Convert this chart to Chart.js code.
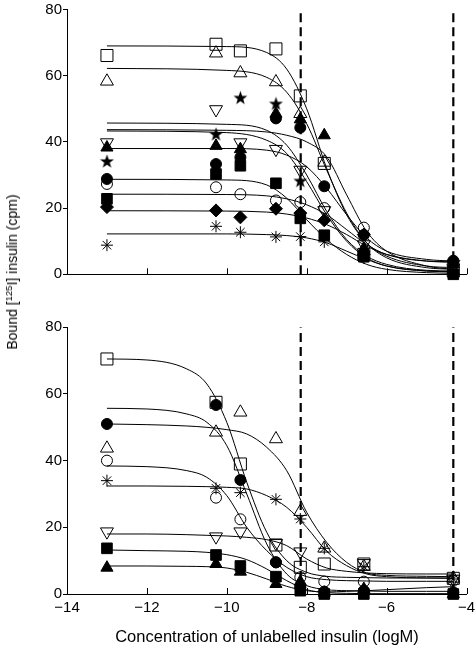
<!DOCTYPE html>
<html>
<head>
<meta charset="utf-8">
<script src="https://cdn.jsdelivr.net/npm/chart.js@4.4.0/dist/chart.umd.min.js"></script>
<style>
  html, body { margin: 0; padding: 0; background: #fff; }
  body { width: 476px; height: 648px; position: relative; overflow: hidden; font-family: "Liberation Sans", Arial, sans-serif; color: #000; }
  canvas { position: absolute; left: 0; }
  #topChart { top: 0; }
  #botChart { top: 300px; }
  #ylabel { position: absolute; left: 12px; top: 272px; transform: translate(-50%, -50%) rotate(-90deg); white-space: nowrap; font-size: 14px; }
  #ylabel sup { font-size: 9.5px; vertical-align: 5px; line-height: 0; }
  #xlabel { position: absolute; left: 267px; top: 636px; transform: translate(-50%, -50%); white-space: nowrap; font-size: 16.5px; }
</style>
</head>
<body>
<canvas id="topChart" width="476" height="290"></canvas>
<canvas id="botChart" width="476" height="348"></canvas>
<div id="ylabel">Bound [<sup>125</sup>I] insulin (cpm)</div>
<div id="xlabel">Concentration of unlabelled insulin (logM)</div>
<script>
// concentrations tested (logM)
const doses = [-13, -10.27, -9.66, -8.77, -8.16, -7.56, -6.57, -4.33];
const fitXTop = [-13, -10, -9, -8.5, -8, -7.5, -7, -6.5, -6, -5, -4.33];
const fitXBot = [-13, -12, -11, -10.5, -10, -9.5, -9, -8.5, -8, -7.5, -7, -6.5, -6, -5, -4.33];
const cutoffs = [-8.15, -4.33];
const xTicks = [-14, -12, -10, -8, -6, -4];
const yTicks = [0, 20, 40, 60, 80];

// upper panel, measured points
const topOpenSquare   = [66.1, 69.5, 67.5, 68.1, 53.9, 33.5, 6, 1];
const topOpenTri      = [58.3, 66.8, 60.8, 58.1, 48.5, 33.8, 7, 1];
const topStar         = [34.1, 42.3, 53.3, 51.5, 28.2, null, null, null];
const topDownTri      = [39.8, 49.8, 39.8, 37.8, 31.5, 19.3, 9, 2];
const topFilledCircle = [28.8, 33.3, 35.3, 47.1, 44.3, 26.6, 11.9, 4.1];
const topFilledTri    = [38.3, 38.8, 37.8, 48.5, 46.8, 42.0, 7.8, 3];
const topFilledSquare = [22.8, 30.3, 32.8, 27.5, 16.9, 11.8, 5.3, 0];
const topOpenCircle   = [27.3, 26.3, 24.2, 22.3, 21.8, 20.0, 14.1, 3.5];
const topDiamond      = [20.3, 19.3, 17.2, 19.8, 18.5, 16.3, 12.0, 4.1];
const topAsterisk     = [8.8, 14.5, 12.7, 11.3, 11.4, 9.8, 5, 1];

// upper panel, fitted curves
const topFitSquare       = [69, 68.8, 67, 62, 50, 32, 18, 9.5, 5.5, 2.5, 2];
const topFitTri          = [62.2, 61.6, 59.5, 55, 45.5, 31.5, 18.5, 9.5, 5, 2, 1.5];
const topFitStar         = [45.7, 45.3, 43.5, 39, 30, 19, 10.5, 5.5, 3, 1.2, 1];
const topFitFilledTri    = [43.7, 43.5, 43, 42, 40, 35.5, 24, 13, 7, 2.5, 1.5];
const topFitDownTri      = [43.3, 42.8, 40.5, 36.5, 28, 18, 10, 5, 2.5, 1, 0.8];
const topFitFilledCircle = [38, 38, 37.5, 36, 32.5, 26, 18, 11, 7, 4.5, 4];
const topFitFilledSquare = [28.7, 28.5, 27, 23, 16.5, 10.5, 6, 3, 1.5, 0.5, 0.3];
const topFitOpenCircle   = [24.2, 24.1, 23.7, 22.8, 21, 18, 13.5, 9, 6, 4, 3.8];
const topFitDiamond      = [19.2, 19.1, 18.8, 18.2, 17, 15, 12, 8.5, 6, 4, 3.6];
const topFitAsterisk     = [12.2, 12.2, 12, 11.7, 11, 9.5, 7, 4.5, 2.5, 1, 0.7];

// lower panel, measured points
const botOpenSquare   = [70.5, 57.5, 39.0, 14.7, 8.0, 9.0, 9.0, 4.7];
const botFilledCircle = [51.0, 56.7, 34.2, 9.5, 2.0, 0.7, 1.0, 0.5];
const botOpenTri      = [43.7, 48.5, 54.5, 46.5, 24.7, 13.7, 8.2, 4.7];
const botOpenCircle   = [40.0, 28.9, 22.4, 9.5, 5.0, 3.7, 3.7, 4.0];
const botAsterisk     = [34.0, 31.7, 30.4, 28.4, 22.5, 13.7, 8.2, 4.5];
const botDownTri      = [18.7, 17.2, 18.7, 15.2, 12.7, null, 9.2, 4.5];
const botFilledSquare = [13.7, 11.7, 8.4, 5.2, 1.0, 0, 0, 0];
const botFilledTri    = [7.9, 9.0, 6.7, 3.0, 3.7, 0.4, 1.5, 0];

// lower panel, fitted curves
const botFitSquare       = [70.5, 70.2, 67.5, 63, 51.5, 33.5, 18.5, 10, 6.5, 5.3, 5, 4.9, 4.8, 4.8, 4.8];
const botFitFilledCircle = [55.7, 55.5, 54, 51.5, 44.5, 30, 15, 6, 2.5, 1.3, 1, 0.9, 0.8, 0.8, 0.8];
const botFitTri          = [51, 50.8, 50.4, 50, 49.3, 48, 44, 37, 24.5, 15.5, 9.5, 6.3, 5.6, 5.3, 5.2];
const botFitOpenCircle   = [38.4, 38.2, 37, 35, 29.5, 20, 13, 8, 5.2, 4.3, 4, 3.9, 3.8, 3.8, 3.8];
const botFitAsterisk     = [32.4, 32.4, 32.3, 32.2, 32, 31.5, 29.5, 26, 20, 12.8, 8.5, 6, 5.2, 4.8, 4.7];
const botFitDownTri      = [18, 18, 17.8, 17.6, 17.4, 17, 16.3, 14.5, 10.5, 7.8, 6.8, 6.3, 6.1, 6, 6];
const botFitFilledSquare = [13.2, 13, 12.8, 12.5, 11.8, 10.3, 7.5, 4, 1.3, 0.4, 0.2, 0.1, 0.1, 0.1, 0.1];
const botFitFilledTri    = [8.4, 8.4, 8.3, 8.2, 7.8, 6.5, 4.5, 2.3, 1, 0.6, 0.8, 1, 1.3, 1.9, 2.2];

Chart.defaults.font.family = '"Liberation Sans", Arial, sans-serif';
Chart.defaults.color = '#000';

// filled five-point star, not among the built-in point styles
function makeStar() {
    const c = document.createElement('canvas');
    c.width = 15; c.height = 15;
    const g = c.getContext('2d');
    g.beginPath();
    for (let i = 0; i < 10; i++) {
        const r = i % 2 ? 2.9 : 7.3;
        const a = -Math.PI / 2 + i * Math.PI / 5;
        g.lineTo(7.5 + r * Math.cos(a), 7.8 + r * Math.sin(a));
    }
    g.closePath();
    g.fillStyle = '#000';
    g.fill();
    return c;
}

const CLEAR = 'rgba(0,0,0,0)';
const marks = {
    openSquare:   { pointStyle: 'rect', pointRadius: 8.5, pointBackgroundColor: CLEAR },
    openTri:      { pointStyle: 'triangle', pointRadius: 7.5, pointBackgroundColor: CLEAR },
    downTri:      { pointStyle: 'triangle', pointRadius: 7.5, pointRotation: 180, pointBackgroundColor: CLEAR },
    star:         { pointStyle: makeStar(), pointRadius: 7 },
    filledCircle: { pointStyle: 'circle', pointRadius: 5.5, pointBackgroundColor: '#000' },
    openCircle:   { pointStyle: 'circle', pointRadius: 5.5, pointBackgroundColor: CLEAR },
    filledTri:    { pointStyle: 'triangle', pointRadius: 7, pointBackgroundColor: '#000' },
    filledSquare: { pointStyle: 'rect', pointRadius: 7.5, pointBackgroundColor: '#000' },
    diamond:      { pointStyle: 'rectRot', pointRadius: 6.5, pointBackgroundColor: '#000' },
    asterisk:     { pointStyle: 'star', pointRadius: 6, pointBackgroundColor: CLEAR }
};

function pts(xs, ys) {
    return xs.map((x, i) => ({ x: x, y: ys[i] })).filter(p => p.y !== null);
}

function markerSet(ys, mark) {
    return Object.assign({
        type: 'scatter',
        data: pts(doses, ys),
        pointBorderColor: '#000',
        pointBorderWidth: 1,
        showLine: false,
        clip: false,
        order: 0
    }, mark);
}

function curveSet(xs, ys) {
    return {
        type: 'line',
        data: pts(xs, ys),
        borderColor: '#000',
        borderWidth: 1,
        pointRadius: 0,
        cubicInterpolationMode: 'monotone',
        fill: false,
        clip: false,
        order: 1
    };
}

function cutoffSets() {
    return cutoffs.map(c => ({
        type: 'line',
        data: [{ x: c, y: 0 }, { x: c, y: 80 }],
        borderColor: '#000',
        borderWidth: 2.2,
        borderDash: [9, 5],
        pointRadius: 0,
        order: 2
    }));
}

function minusLabel(v) {
    return v < 0 ? '\u2212' + Math.abs(v) : String(v);
}

// x ticks in the original point up into the plot
const inwardTicks = {
    id: 'inwardTicks',
    afterDraw(chart) {
        const { ctx, chartArea } = chart;
        const x = chart.scales.x;
        ctx.save();
        ctx.strokeStyle = '#000';
        ctx.lineWidth = 1;
        xTicks.forEach(v => {
            if (v === x.min) return;
            const px = Math.round(x.getPixelForValue(v)) + 0.5;
            ctx.beginPath();
            ctx.moveTo(px, chartArea.bottom);
            ctx.lineTo(px, chartArea.bottom - 6);
            ctx.stroke();
        });
        ctx.restore();
    }
};

function makeChart(id, datasets, showXLabels, xHeight, padTop) {
    return new Chart(document.getElementById(id), {
        data: { datasets: datasets },
        options: {
            responsive: false,
            animation: false,
            events: [],
            layout: { padding: { top: padTop, right: 9, left: 0, bottom: 0 } },
            plugins: { legend: { display: false }, tooltip: { enabled: false } },
            scales: {
                x: {
                    type: 'linear',
                    min: -14,
                    max: -4,
                    afterBuildTicks: s => { s.ticks = xTicks.map(v => ({ value: v })); },
                    afterFit: s => { s.height = xHeight; s.paddingLeft = 0; s.paddingRight = 0; },
                    ticks: {
                        display: showXLabels,
                        autoSkip: false,
                        maxRotation: 0,
                        padding: 5,
                        font: { size: 15 },
                        callback: minusLabel
                    },
                    grid: { drawOnChartArea: false, drawTicks: false },
                    border: { color: '#000', width: 1 }
                },
                y: {
                    type: 'linear',
                    min: 0,
                    max: 80,
                    afterBuildTicks: s => { s.ticks = yTicks.map(v => ({ value: v })); },
                    afterFit: s => { s.width = 67; s.paddingTop = 0; s.paddingBottom = 0; },
                    ticks: { padding: 1, font: { size: 15 } },
                    grid: { drawOnChartArea: false, drawTicks: true, tickLength: 4, color: '#000' },
                    border: { color: '#000', width: 1 }
                }
            }
        },
        plugins: [inwardTicks]
    });
}

const topSets = [
    markerSet(topOpenSquare, marks.openSquare),
    markerSet(topOpenTri, marks.openTri),
    markerSet(topStar, marks.star),
    markerSet(topDownTri, marks.downTri),
    markerSet(topFilledCircle, marks.filledCircle),
    markerSet(topFilledTri, marks.filledTri),
    markerSet(topFilledSquare, marks.filledSquare),
    markerSet(topOpenCircle, marks.openCircle),
    markerSet(topDiamond, marks.diamond),
    markerSet(topAsterisk, marks.asterisk),
    curveSet(fitXTop, topFitSquare),
    curveSet(fitXTop, topFitTri),
    curveSet(fitXTop, topFitStar),
    curveSet(fitXTop, topFitFilledTri),
    curveSet(fitXTop, topFitDownTri),
    curveSet(fitXTop, topFitFilledCircle),
    curveSet(fitXTop, topFitFilledSquare),
    curveSet(fitXTop, topFitOpenCircle),
    curveSet(fitXTop, topFitDiamond),
    curveSet(fitXTop, topFitAsterisk)
].concat(cutoffSets());

const botSets = [
    markerSet(botOpenSquare, marks.openSquare),
    markerSet(botFilledCircle, marks.filledCircle),
    markerSet(botOpenTri, marks.openTri),
    markerSet(botOpenCircle, marks.openCircle),
    markerSet(botAsterisk, marks.asterisk),
    markerSet(botDownTri, marks.downTri),
    markerSet(botFilledSquare, marks.filledSquare),
    markerSet(botFilledTri, marks.filledTri),
    curveSet(fitXBot, botFitSquare),
    curveSet(fitXBot, botFitFilledCircle),
    curveSet(fitXBot, botFitTri),
    curveSet(fitXBot, botFitOpenCircle),
    curveSet(fitXBot, botFitAsterisk),
    curveSet(fitXBot, botFitDownTri),
    curveSet(fitXBot, botFitFilledSquare),
    curveSet(fitXBot, botFitFilledTri)
].concat(cutoffSets());

makeChart('topChart', topSets, false, 15.7, 7.6);
makeChart('botChart', botSets, true, 54, 27.3);
</script>
</body>
</html>
